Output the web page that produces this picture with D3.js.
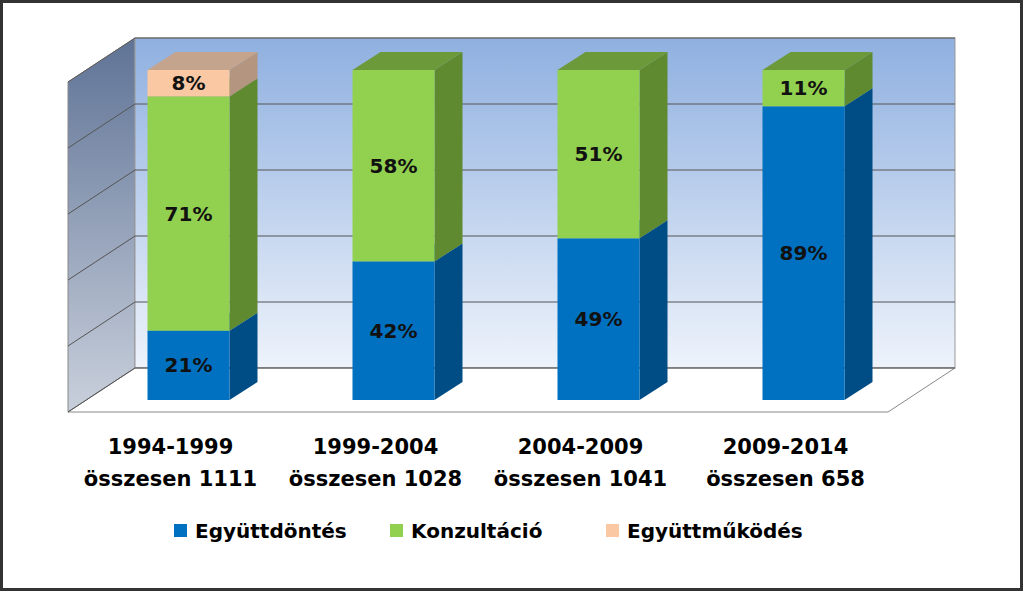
<!DOCTYPE html>
<html><head><meta charset="utf-8">
<script src="https://cdn.jsdelivr.net/npm/d3@7"></script>
<style>body{margin:0;background:#fff}svg{display:block;font-family:"DejaVu Sans",Verdana,sans-serif}</style>
</head><body><svg id="c" width="1023" height="591"></svg>
<script>
const periods = ["1994-1999", "1999-2004", "2004-2009", "2009-2014"];
const totals = ["összesen 1111", "összesen 1028", "összesen 1041", "összesen 658"];
const seriesNames = ["Együttdöntés", "Konzultáció", "Együttműködés"];
const egyuttdontes = [21, 42, 49, 89];
const konzultacio = [71, 58, 51, 11];
const egyuttmukodes = [8, 0, 0, 0];
const yTicks = [0, 20, 40, 60, 80, 100];

const frontCol = ["#0070c0", "#92d050", "#fac8a3"];
const sideCol = ["#004c84", "#5f8a30", "#b39580"];
const topCol = ["#2f7fc4", "#6c9a3b", "#c4a48c"];

const svg = d3.select("#c");
const defs = svg.append("defs");
const gw = defs.append("linearGradient").attr("id", "wall").attr("x1", 0).attr("y1", 0).attr("x2", 0).attr("y2", 1);
gw.append("stop").attr("offset", 0).attr("stop-color", "#8fb0e0");
gw.append("stop").attr("offset", 1).attr("stop-color", "#eef3fb");
const gs = defs.append("linearGradient").attr("id", "sidewall").attr("x1", 0).attr("y1", 0).attr("x2", 0).attr("y2", 1);
gs.append("stop").attr("offset", 0).attr("stop-color", "#5f7396");
gs.append("stop").attr("offset", 1).attr("stop-color", "#c9d0dc");

svg.append("rect").attr("x", 1.5).attr("y", 1.5).attr("width", 1020).attr("height", 588)
  .attr("fill", "#fff").attr("stroke", "#333").attr("stroke-width", 3);

// depth offsets
const wallD = [67, -44];   // floor front -> back wall
const barOff = [18, -12];  // floor front -> bar front
const barD = [28, -18];    // bar depth

const x = d3.scaleBand().domain(periods).range([68, 888]).paddingInner(0.6).paddingOuter(0.3);
const y = d3.scaleLinear().domain([0, 100]).range([412, 82]);
const line = d3.line();

// side wall
svg.append("path").attr("d", line([[68, y(0)], [68, y(100)], [68 + wallD[0], y(100) + wallD[1]], [68 + wallD[0], y(0) + wallD[1]]]) + "Z")
  .attr("fill", "url(#sidewall)").attr("stroke", "#888");
// back wall
svg.append("rect").attr("x", 68 + wallD[0]).attr("y", y(100) + wallD[1])
  .attr("width", 820).attr("height", y(0) - y(100)).attr("fill", "url(#wall)").attr("stroke", "#999");
// floor
svg.append("path").attr("d", line([[68, y(0)], [68 + wallD[0], y(0) + wallD[1]], [888 + wallD[0], y(0) + wallD[1]], [888, y(0)]]) + "Z")
  .attr("fill", "#fff").attr("stroke", "#888");
// gridlines
yTicks.forEach(t => {
  svg.append("path").attr("d", line([[68, y(t)], [68 + wallD[0], y(t) + wallD[1]], [888 + wallD[0], y(t) + wallD[1]]]))
    .attr("fill", "none").attr("stroke", "#555").attr("stroke-width", 1);
});

const series = [egyuttdontes, konzultacio, egyuttmukodes];
periods.forEach((p, i) => {
  let base = 0;
  series.forEach((vals, s) => {
    const v = vals[i];
    if (!v) return;
    const x0 = x(p) + barOff[0], x1 = x0 + x.bandwidth();
    const yb = y(base) + barOff[1], yt = y(base + v) + barOff[1];
    svg.append("path").attr("d", line([[x1, yb], [x1 + barD[0], yb + barD[1]], [x1 + barD[0], yt + barD[1]], [x1, yt]]) + "Z").attr("fill", sideCol[s]);
    svg.append("path").attr("d", line([[x0, yt], [x0 + barD[0], yt + barD[1]], [x1 + barD[0], yt + barD[1]], [x1, yt]]) + "Z").attr("fill", topCol[s]);
    svg.append("rect").attr("x", x0).attr("y", yt).attr("width", x1 - x0).attr("height", yb - yt).attr("fill", frontCol[s]);
    svg.append("text").attr("x", (x0 + x1) / 2).attr("y", (yb + yt) / 2 + 7).attr("text-anchor", "middle")
      .attr("font-size", 20).attr("font-weight", "bold").attr("fill", "#111").text(v + "%");
    base += v;
  });
  const cx = x(p) + x.bandwidth() / 2;
  svg.append("text").attr("x", cx).attr("y", 454).attr("text-anchor", "middle").attr("font-size", 21).attr("font-weight", "bold").text(p);
  svg.append("text").attr("x", cx).attr("y", 486).attr("text-anchor", "middle").attr("font-size", 21).attr("font-weight", "bold").text(totals[i]);
});

// legend
const lx = [174, 390, 606];
seriesNames.forEach((n, s) => {
  svg.append("rect").attr("x", lx[s]).attr("y", 524).attr("width", 13).attr("height", 13).attr("fill", frontCol[s]);
  svg.append("text").attr("x", lx[s] + 21).attr("y", 538).attr("font-size", 20).attr("font-weight", "bold").text(n);
});
</script></body></html>
